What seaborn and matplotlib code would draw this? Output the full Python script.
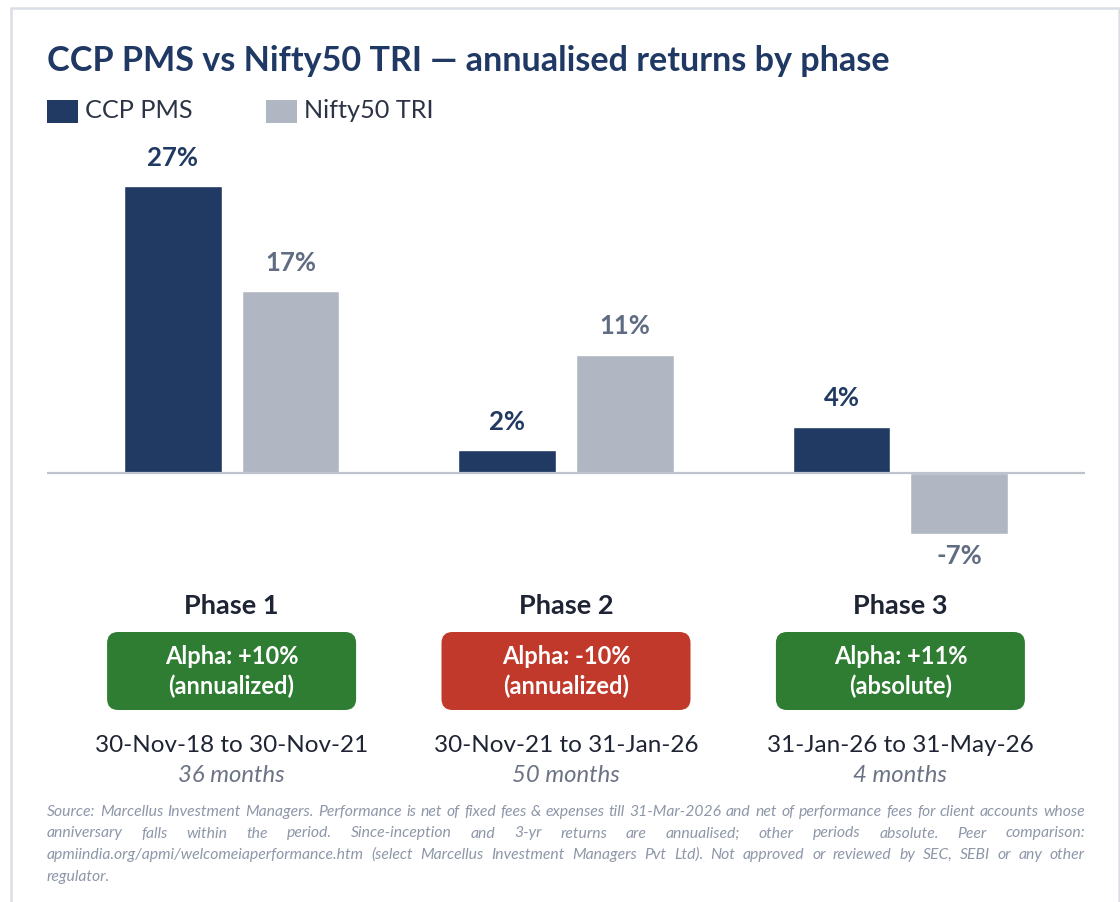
import matplotlib
matplotlib.use("Agg")
import matplotlib.pyplot as plt
import seaborn as sns
import pandas as pd
from matplotlib.patches import FancyBboxPatch, Rectangle
from matplotlib.transforms import IdentityTransform

# ---------------- data ----------------
phases = ["Phase 1", "Phase 2", "Phase 3"]
series = ["CCP PMS", "Nifty50 TRI"]
ccp_values = [27.0, 2.1, 4.3]
nifty_values = [17.1, 11.1, -5.8]
ccp_labels = ["27%", "2%", "4%"]
nifty_labels = ["17%", "11%", "-7%"]
alpha_lines = ["Alpha: +10%", "Alpha: -10%", "Alpha: +11%"]
alpha_basis = ["(annualized)", "(annualized)", "(absolute)"]
alpha_positive = [True, False, True]
date_ranges = ["30-Nov-18 to 30-Nov-21", "30-Nov-21 to 31-Jan-26", "31-Jan-26 to 31-May-26"]
durations = ["36 months", "50 months", "4 months"]
title = "CCP PMS vs Nifty50 TRI \u2014 annualised returns by phase"
footnote_lines = [
    "Source: Marcellus Investment Managers. Performance is net of fixed fees & expenses till 31-Mar-2026 and net of performance fees for client accounts whose",
    "anniversary falls within the period. Since-inception and 3-yr returns are annualised; other periods absolute. Peer comparison:",
    "apmiindia.org/apmi/welcomeiaperformance.htm (select Marcellus Investment Managers Pvt Ltd). Not approved or reviewed by SEC, SEBI or any other",
    "regulator.",
]

# ---------------- style ----------------
NAVY = "#213A63"
GREY = "#B0B6C2"
NAVY_TXT = "#213A63"
GREY_TXT = "#5F6C82"
TITLE_C = "#1F3864"
DARK = "#1E2433"
GREEN = "#2E7D32"
RED = "#C0392B"
FOOT_C = "#8E97A8"

sns.set_theme(style="white")
plt.rcParams["font.family"] = ["Lato", "DejaVu Sans"]

W, H = 1120, 902
fig = plt.figure(figsize=(W / 100, H / 100), dpi=100)
fig.patch.set_facecolor("white")

def fy(y_px):
    return 1 - y_px / H

def fx(x_px):
    return x_px / W

# axes: zero line at y=472.5 px, 10.61 px per unit
scale = 10.61
zero_px = 472.5
ax_top, ax_bot = 150, 570
ax_left, ax_right = 47, 1085
ax = fig.add_axes([fx(ax_left), fy(ax_bot), (ax_right - ax_left) / W, (ax_bot - ax_top) / H])
ax.set_ylim(-(ax_bot - zero_px) / scale, (zero_px - ax_top) / scale)

df = pd.DataFrame({
    "phase": phases * 2,
    "series": [series[0]] * 3 + [series[1]] * 3,
    "value": ccp_values + nifty_values,
})
sns.barplot(data=df, x="phase", y="value", hue="series", palette=[NAVY, GREY],
            width=0.705, gap=0.17, ax=ax, legend=False, saturation=1)
ax.set_xlim(-0.552, 2.552)
ax.axhline(0, color="#BFC3CE", lw=1.6, zorder=3)
for s in ax.spines.values():
    s.set_visible(False)
ax.set_xticks([])
ax.set_yticks([])
ax.set_xlabel("")
ax.set_ylabel("")
ax.patch.set_alpha(0)

# value labels
for cont, labels, col in zip(ax.containers, [ccp_labels, nifty_labels], [NAVY_TXT, GREY_TXT]):
    for bar, lab in zip(cont, labels):
        v = bar.get_height()
        xc = bar.get_x() + bar.get_width() / 2
        off = 20.5 if v >= 0 else -15.5
        ax.annotate(lab, (xc, v), xytext=(0, off), textcoords="offset points",
                    ha="center", va="center", fontsize=18.5, fontweight="bold", color=col)

# title & legend
fig.text(fx(47), fy(61), title, fontsize=24.6, fontweight="bold", color=TITLE_C, va="center", ha="left")
for x0, name, col in [(47, series[0], NAVY), (266, series[1], GREY)]:
    fig.patches.append(Rectangle((fx(x0), fy(123)), 31 / W, 23 / H, transform=fig.transFigure,
                                 facecolor=col, edgecolor="none"))
    fig.text(fx(x0 + 38), fy(111), name, fontsize=18.2, color="#2B3345", va="center", ha="left")

# per-phase annotations
fig.canvas.draw()
renderer = fig.canvas.get_renderer()
for i, ph in enumerate(phases):
    xd = ax.transData.transform((i, 0))[0]
    fig.text(xd / W, fy(606), ph, fontsize=19.5, fontweight="bold", color=DARK, ha="center", va="center")
    bw, bh = 249, 78
    box = FancyBboxPatch((xd - bw / 2, H - 710), bw, bh,
                         boxstyle="round,pad=0,rounding_size=11",
                         facecolor=GREEN if alpha_positive[i] else RED, edgecolor="none",
                         transform=IdentityTransform())
    fig.patches.append(box)
    fig.text(xd / W, fy(657), alpha_lines[i], fontsize=17, fontweight="bold", color="white",
             ha="center", va="center")
    fig.text(xd / W, fy(686), alpha_basis[i], fontsize=17, fontweight="bold", color="white",
             ha="center", va="center")
    fig.text(xd / W, fy(745), date_ranges[i], fontsize=17.5, color=DARK, ha="center", va="center")
    fig.text(xd / W, fy(775), durations[i], fontsize=17.2, style="italic", color="#6B7385",
             ha="center", va="center")

# justified footnote
foot_kw = dict(fontsize=11.3, style="italic", color=FOOT_C, va="center", ha="left")
x_start, x_end = 47, 1085
line_ys = [812, 833.5, 855, 876.5]
for li, (line, ypx) in enumerate(zip(footnote_lines, line_ys)):
    if li == len(footnote_lines) - 1:
        fig.text(fx(x_start), fy(ypx), line, **foot_kw)
        continue
    words = line.split()
    widths = []
    for w in words:
        t = fig.text(0, 0, w, **foot_kw)
        widths.append(t.get_window_extent(renderer).width)
        t.remove()
    gap = (x_end - x_start - sum(widths)) / (len(words) - 1)
    x = x_start
    for w, wd in zip(words, widths):
        fig.text(fx(x), fy(ypx), w, **foot_kw)
        x += wd + gap

# outer frame
fig.patches.append(Rectangle((fx(11), -0.01), (1119 - 11) / W, fy(8) + 0.01, transform=fig.transFigure,
                             facecolor="none", edgecolor="#DADEE4", lw=1.8))

fig.savefig("out.png", dpi=100, facecolor="white")
